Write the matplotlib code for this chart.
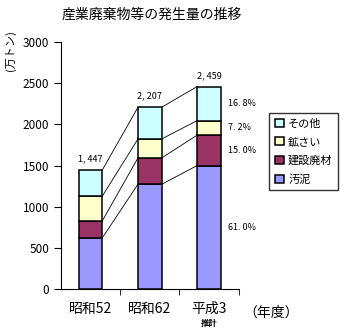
import matplotlib.pyplot as plt
import numpy as np

plt.rcParams['font.family'] = ['Noto Sans CJK JP', 'DejaVu Sans']

years = ['昭和52', '昭和62', '平成3']
kinds = ['汚泥', '建設廃材', '鉱さい', 'その他']
colors = ['#9999FF', '#993366', '#FFFFCC', '#CCFFFF']

# 発生量（万トン）
sludge = [623, 1272, 1500]
construction = [207, 320, 369]
slag = [300, 230, 177]
other = [317, 385, 413]
totals = [1447, 2207, 2459]
shares_last = ['61. 0%', '15. 0%', '7. 2%', '16. 8%']

series = [sludge, construction, slag, other]

fig = plt.figure(figsize=(3.46, 3.33), dpi=100)
ax = fig.add_axes([0.176, 0.132, 0.514, 0.742])

x = np.arange(len(years))
w = 0.4
bottom = np.zeros(len(years))
tops = []
for vals, c, name in zip(series, colors, kinds):
    ax.bar(x, vals, w, bottom=bottom, color=c, edgecolor='black', linewidth=1.1, label=name)
    bottom = bottom + np.array(vals)
    tops.append(bottom.copy())

# 区分線（各棒の境界を結ぶ）
for t in tops:
    for i in range(len(years) - 1):
        ax.plot([x[i] + w / 2, x[i + 1] - w / 2], [t[i], t[i + 1]], color='black', lw=0.6)

for i, t in enumerate(totals):
    ax.text(x[i], t + 80, f'{t // 1000}, {t % 1000:03d}', ha='center', va='bottom', fontsize=6.5)

starts = np.vstack([np.zeros(len(years))] + tops[:-1])
for k, lab in enumerate(shares_last):
    mid = (starts[k][-1] + tops[k][-1]) / 2
    ax.text(x[-1] + w / 2 + 0.12, mid, lab, ha='left', va='center', fontsize=6.5)

ax.set_xlim(-0.5, 2.5)
ax.set_ylim(0, 3000)
ax.set_yticks(range(0, 3001, 500))
ax.set_xticks(x)
ax.set_xticklabels(years, fontsize=10)
ax.set_xticks([0.5, 1.5, 2.5], minor=True)
ax.tick_params(axis='x', which='major', length=0, pad=9)
ax.tick_params(axis='x', which='minor', length=4, direction='out')
ax.tick_params(axis='y', labelsize=8.5, length=5, direction='out')
ax.spines['top'].set_visible(False)
ax.spines['right'].set_visible(False)

ax.text(2.0, -0.12, '推計', transform=ax.get_xaxis_transform(), ha='center', va='top',
        fontsize=6, fontweight='bold')
ax.text(2.57, -0.095, '（年度）', transform=ax.get_xaxis_transform(), ha='left', va='center', fontsize=10)

fig.text(0.44, 0.955, '産業廃棄物等の発生量の推移', ha='center', va='center', fontsize=10)
fig.text(0.03, 0.847, '(万トン)', rotation=90, ha='center', va='center', fontsize=8)

h, l = ax.get_legend_handles_labels()
leg = ax.legend(h[::-1], l[::-1], loc='upper left', bbox_to_anchor=(1.14, 0.735),
                frameon=True, fancybox=False, edgecolor='black', fontsize=8,
                handlelength=0.8, handleheight=0.8, handletextpad=0.4,
                labelspacing=0.75, borderpad=0.5)
leg.get_frame().set_linewidth(1)
for p in leg.get_patches():
    p.set_edgecolor('black')

fig.savefig('out.png', dpi=100)
